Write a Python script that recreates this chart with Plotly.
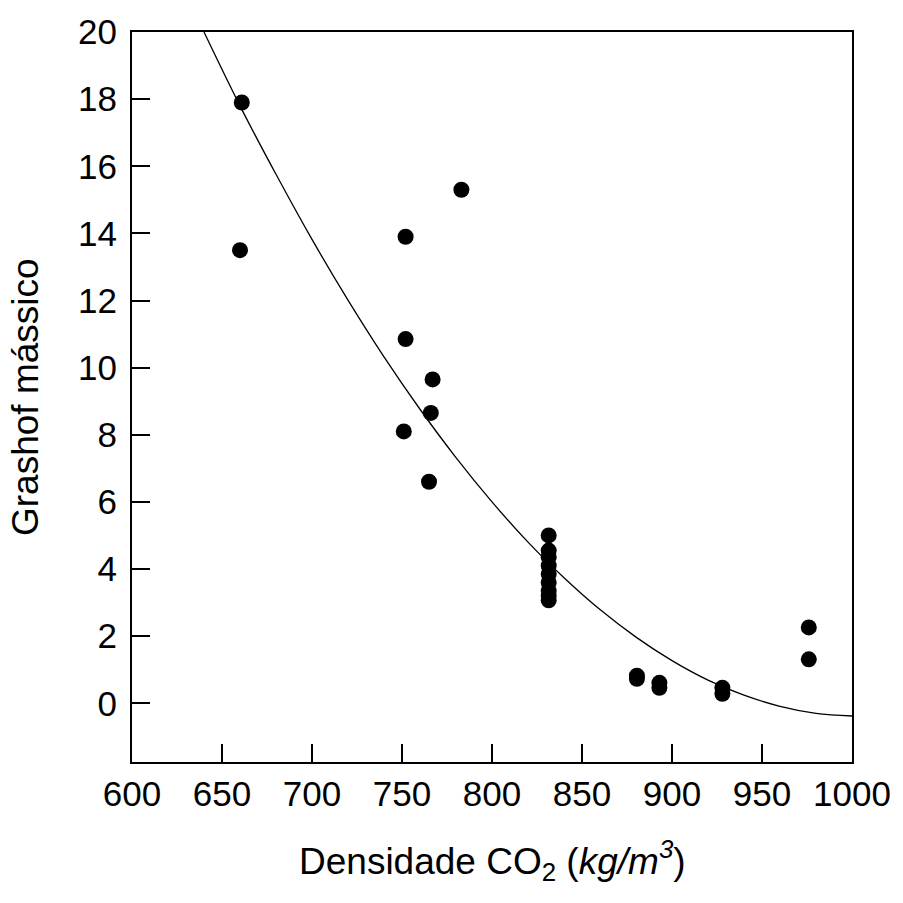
import plotly.graph_objects as go

# Data points
dens = [661, 660, 752, 752, 751, 783, 767, 766, 765,
        831.5, 831.5, 831.5, 831.5, 831.5, 831.5, 831.5, 831.5, 831.5,
        880.5, 880.5, 893, 893, 928, 928, 976, 976]
grashof = [17.9, 13.5, 13.9, 10.85, 8.1, 15.3, 9.65, 8.65, 6.6,
           5.0, 4.55, 4.35, 4.1, 3.85, 3.6, 3.35, 3.2, 3.07,
           0.82, 0.73, 0.61, 0.46, 0.46, 0.28, 2.26, 1.31]

# Fitted curve
curve_x = [640, 660, 680, 700, 720, 740, 760, 780, 800, 820, 840, 860,
           880, 900, 920, 940, 960, 980, 1000]
curve_y = [20.0, 17.8, 15.76, 13.82, 12.01, 10.32, 8.76, 7.32, 6.0, 4.8,
           3.74, 2.79, 1.97, 1.27, 0.69, 0.24, -0.09, -0.30, -0.38]

x_ticks = [600, 650, 700, 750, 800, 850, 900, 950, 1000]
y_ticks = [0, 2, 4, 6, 8, 10, 12, 14, 16, 18, 20]

FONT = "Liberation Sans, Arial, sans-serif"

fig = go.Figure()
fig.add_trace(go.Scatter(x=curve_x, y=curve_y, mode="lines",
                         line=dict(color="black", width=1.3, shape="spline"),
                         hoverinfo="skip", showlegend=False))
fig.add_trace(go.Scatter(x=dens, y=grashof, mode="markers",
                         marker=dict(color="black", size=16),
                         showlegend=False))

axis_common = dict(showgrid=False, zeroline=False, showline=True,
                   linecolor="black", linewidth=2, mirror=True,
                   ticks="inside", tickcolor="black", tickwidth=1.5,
                   ticklen=18, tickfont=dict(family=FONT, size=35, color="black"))

fig.update_xaxes(range=[600, 1000], tickvals=x_ticks, **axis_common)
fig.update_yaxes(range=[-1.75, 20], tickvals=y_ticks, ticklabelstandoff=6,
                 **axis_common)

fig.add_annotation(text="Grashof mássico", xref="paper", yref="paper",
                   x=0, y=0.5, xanchor="center", yanchor="middle",
                   xshift=-107, textangle=-90, showarrow=False,
                   font=dict(family=FONT, size=37, color="black"))
fig.add_annotation(text="Densidade CO<sub>2</sub> (<i>kg/m<sup>3</sup></i>)",
                   xref="paper", yref="paper", x=0.5, y=0,
                   xanchor="center", yanchor="middle", yshift=-98,
                   showarrow=False,
                   font=dict(family=FONT, size=37, color="black"))

fig.update_layout(width=903, height=903,
                  margin=dict(l=132, r=40, t=31, b=141),
                  paper_bgcolor="white", plot_bgcolor="white",
                  font=dict(family=FONT, color="black"))

fig.write_html("out.html")
